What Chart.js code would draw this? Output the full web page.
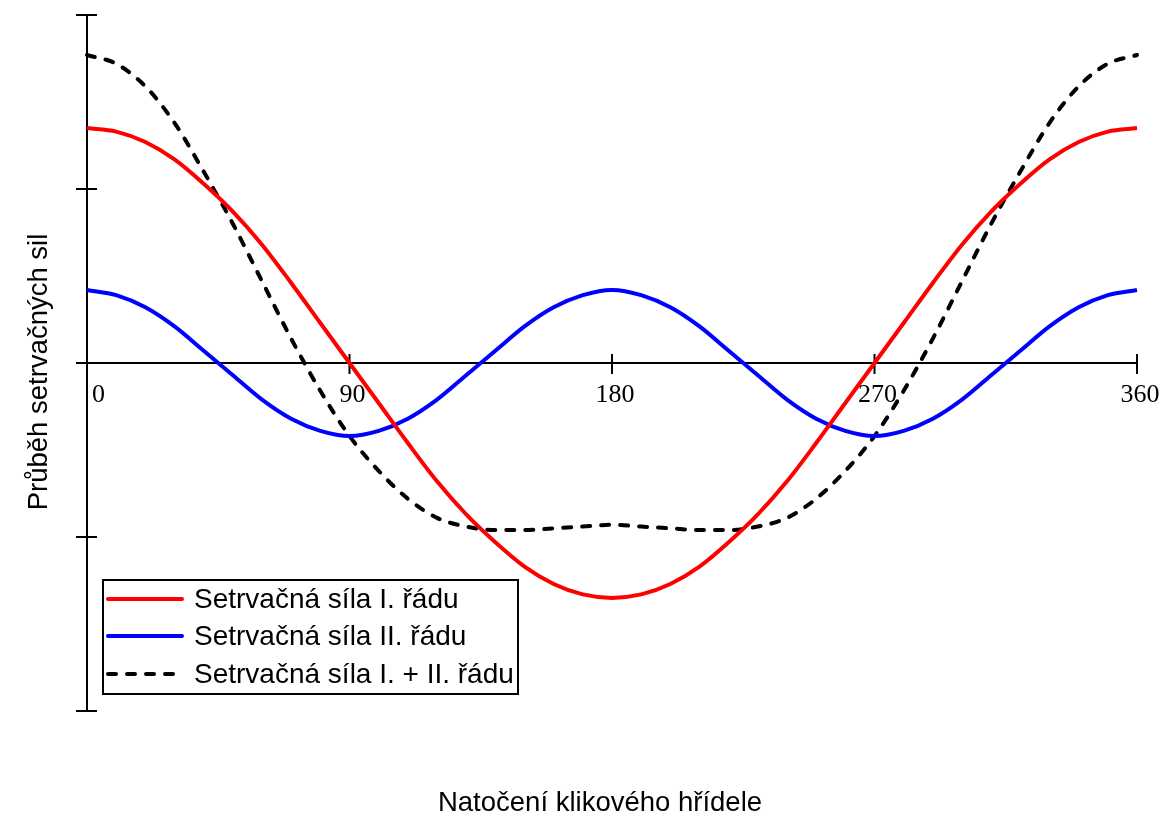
<!DOCTYPE html>
<html>
<head>
<meta charset="utf-8">
<script src="https://cdn.jsdelivr.net/npm/chart.js@4.4.1/dist/chart.umd.min.js"></script>
<style>
  html, body { margin: 0; padding: 0; background: #fff; }
  #wrap { width: 1166px; height: 814px; }
</style>
</head>
<body>
<div id="wrap"><canvas id="forces_chart"></canvas></div>
<script>
// crank angle in degrees
const angles = [0, 10, 20, 30, 40, 50, 60, 70, 80, 90, 100, 110, 120, 130, 140, 150, 160, 170, 180,
  190, 200, 210, 220, 230, 240, 250, 260, 270, 280, 290, 300, 310, 320, 330, 340, 350, 360];

// values (one y tick = 1 unit)
const firstOrder = [1.35, 1.33, 1.27, 1.17, 1.03, 0.87, 0.68, 0.46, 0.23, 0, -0.23, -0.46, -0.68, -0.87, -1.03, -1.17, -1.27, -1.33, -1.35,
  -1.33, -1.27, -1.17, -1.03, -0.87, -0.68, -0.46, -0.23, 0, 0.23, 0.46, 0.68, 0.87, 1.03, 1.17, 1.27, 1.33, 1.35];
const secondOrder = [0.42, 0.39, 0.32, 0.21, 0.07, -0.07, -0.21, -0.32, -0.39, -0.42, -0.39, -0.32, -0.21, -0.07, 0.07, 0.21, 0.32, 0.39, 0.42,
  0.39, 0.32, 0.21, 0.07, -0.07, -0.21, -0.32, -0.39, -0.42, -0.39, -0.32, -0.21, -0.07, 0.07, 0.21, 0.32, 0.39, 0.42];
const combined = [1.77, 1.72, 1.59, 1.38, 1.10, 0.80, 0.47, 0.14, -0.16, -0.42, -0.62, -0.78, -0.89, -0.94, -0.96, -0.96, -0.95, -0.94, -0.93,
  -0.94, -0.95, -0.96, -0.96, -0.94, -0.89, -0.78, -0.62, -0.42, -0.16, 0.14, 0.47, 0.80, 1.10, 1.38, 1.59, 1.72, 1.77];

const seriesNames = ['Setrvačná síla I. řádu', 'Setrvačná síla II. řádu', 'Setrvačná síla I. + II. řádu'];
const xTicks = [0, 90, 180, 270, 360];
const xTickLabels = ['0', '90', '180', '270', '360'];
const yTicks = [-2, -1, 0, 1, 2];
const xTitle = 'Natočení klikového hřídele';
const yTitle = 'Průběh setrvačných sil';

const sansFont = '"Liberation Sans", Arial, sans-serif';
const toPoints = vals => vals.map((v, i) => ({x: angles[i], y: v}));

// axes in the middle of the plot, drawn from the scales
const drawFrame = {
  id: 'drawFrame',
  beforeDatasetsDraw(chart) {
    const {ctx, scales: {x, y}} = chart;
    const x0 = x.getPixelForValue(xTicks[0]);
    const x1 = x.getPixelForValue(xTicks[xTicks.length - 1]);
    const yZero = y.getPixelForValue(0);

    ctx.save();
    ctx.strokeStyle = '#000';
    ctx.lineWidth = 2;
    ctx.beginPath();
    ctx.moveTo(x0, y.getPixelForValue(yTicks[yTicks.length - 1]));
    ctx.lineTo(x0, y.getPixelForValue(yTicks[0]));
    ctx.moveTo(x0, yZero);
    ctx.lineTo(x1, yZero);
    yTicks.forEach(v => {
      const py = y.getPixelForValue(v);
      ctx.moveTo(x0 - 11, py);
      ctx.lineTo(x0 + 10, py);
    });
    xTicks.slice(1).forEach(v => {
      const px = x.getPixelForValue(v);
      ctx.moveTo(px, yZero - 9);
      ctx.lineTo(px, yZero + 11);
    });
    ctx.stroke();

    ctx.fillStyle = '#000';
    ctx.font = '26px "Liberation Serif", "Times New Roman", serif';
    ctx.textBaseline = 'alphabetic';
    xTicks.forEach((v, i) => {
      const px = x.getPixelForValue(v);
      if (i === 0) {
        ctx.textAlign = 'left';
        ctx.fillText(xTickLabels[i], px + 5, yZero + 39);
      } else {
        ctx.textAlign = 'center';
        ctx.fillText(xTickLabels[i], px + 3, yZero + 39);
      }
    });

    ctx.font = '27.5px ' + sansFont;
    ctx.textAlign = 'center';
    ctx.fillText(xTitle, 600, 811);

    ctx.translate(47, 372);
    ctx.rotate(-Math.PI / 2);
    ctx.fillText(yTitle, 0, 0);
    ctx.restore();
  },
  afterDatasetsDraw(chart) {
    const {ctx} = chart;
    ctx.save();
    ctx.fillStyle = '#fff';
    ctx.fillRect(103, 580, 415, 114);
    ctx.strokeStyle = '#000';
    ctx.lineWidth = 2;
    ctx.strokeRect(103, 580, 415, 114);

    const rows = [599, 636, 674];
    chart.data.datasets.forEach((ds, i) => {
      ctx.beginPath();
      ctx.strokeStyle = ds.borderColor;
      ctx.lineWidth = ds.borderWidth;
      ctx.lineCap = 'round';
      ctx.setLineDash(ds.borderDash || []);
      ctx.moveTo(108, rows[i]);
      ctx.lineTo(182, rows[i]);
      ctx.stroke();
      ctx.setLineDash([]);
      ctx.fillStyle = '#000';
      ctx.font = '28px ' + sansFont;
      ctx.textAlign = 'left';
      ctx.textBaseline = 'alphabetic';
      ctx.fillText(ds.label, 194, rows[i] + 9);
    });
    ctx.restore();
  }
};

const config = {
  type: 'line',
  data: {
    datasets: [
      {
        label: seriesNames[0],
        data: toPoints(firstOrder),
        borderColor: '#ff0000',
        borderWidth: 4
      },
      {
        label: seriesNames[1],
        data: toPoints(secondOrder),
        borderColor: '#0000ff',
        borderWidth: 4
      },
      {
        label: seriesNames[2],
        data: toPoints(combined),
        borderColor: '#000000',
        borderWidth: 4,
        borderDash: [8, 11],
        borderCapStyle: 'round'
      }
    ]
  },
  options: {
    responsive: true,
    maintainAspectRatio: false,
    animation: false,
    layout: {
      padding: {left: 87, right: 29, top: 15, bottom: 103}
    },
    elements: {
      point: {radius: 0},
      line: {cubicInterpolationMode: 'monotone', fill: false}
    },
    datasets: {
      line: {clip: false}
    },
    scales: {
      x: {type: 'linear', min: 0, max: 360, display: false},
      y: {type: 'linear', min: -2, max: 2, display: false}
    },
    plugins: {
      legend: {display: false},
      tooltip: {enabled: false}
    }
  },
  plugins: [drawFrame]
};

const forcesChart = new Chart(document.getElementById('forces_chart'), config);
</script>
</body>
</html>
